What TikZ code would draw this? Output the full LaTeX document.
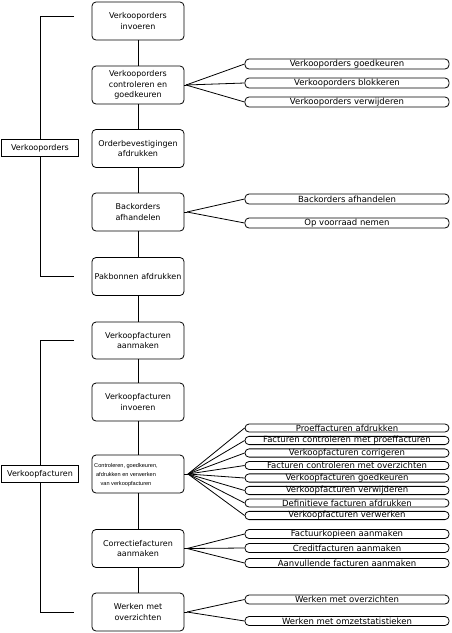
\documentclass[tikz,border=0pt]{standalone}
\usepackage{fontspec}
\setmainfont{DejaVu Sans}
\newfontfamily\tinyfont{Liberation Sans}
\begin{document}
\begin{tikzpicture}[x=1pt,y=-1pt,line width=0.8pt,
  mainbox/.style={draw, rounded corners=4pt, minimum width=92pt, minimum height=38pt, align=center, inner sep=0pt, font=\fontsize{8}{10.5}\selectfont},
  subbox/.style={draw, rounded corners=4pt, minimum width=204pt, minimum height=10pt, inner sep=0pt, font=\fontsize{8.5}{9}\selectfont},
  subsmall/.style={subbox, minimum height=8pt},
  grpbox/.style={draw, fill=white, minimum width=77pt, minimum height=17pt, inner sep=0pt, font=\fontsize{8}{10}\selectfont}]
\useasboundingbox (0,0) rectangle (451,633);
% main column
\node[mainbox] (m1) at (138,21) {Verkooporders\\invoeren};
\node[mainbox] (m2) at (138,85) {Verkooporders\\controleren en\\goedkeuren};
\node[mainbox] (m3) at (138,148.5) {Orderbevestigingen\\afdrukken};
\node[mainbox] (m4) at (138,212) {Backorders\\afhandelen};
\node[mainbox] (m5) at (138,276.5) {Pakbonnen afdrukken};
\node[mainbox, minimum height=37pt] (m6) at (138,340.5) {Verkoopfacturen\\aanmaken};
\node[mainbox] (m7) at (138,402) {Verkoopfacturen\\invoeren};
\node[mainbox] (m8) at (138,474) {};
\node[align=center, inner sep=0pt, font=\tinyfont\fontsize{5.6}{8.6}\selectfont] (m8t) at (126,475) {Controleren, goedkeuren,\\afdrukken en verwerken\\van verkoopfacturen};
\node[mainbox] (m9) at (138,548.5) {Correctiefacturen\\aanmaken};
\node[mainbox] (m10) at (138,612) {Werken met\\overzichten};
\foreach \a/\b in {m1/m2,m2/m3,m3/m4,m4/m5,m5/m6,m6/m7,m7/m8,m8/m9,m9/m10}
  \draw (\a.south) -- (\b.north);
% group labels and brackets
\coordinate (t1) at (74,16);
\coordinate (b1) at (74,276);
\coordinate (t2) at (74,340);
\coordinate (b2) at (74,612);
\node[grpbox] (g1) at (40,148) {Verkooporders};
\node[grpbox] (g2) at (40,474) {Verkoopfacturen};
\draw (t1) -| (g1.north);
\draw (g1.south) |- (b1);
\draw (t2) -| (g2.north);
\draw (g2.south) |- (b2);
% sub tasks of m2
\node[subbox] (s21) at (347,64) {Verkooporders goedkeuren};
\node[subbox] (s22) at (347,83) {Verkooporders blokkeren};
\node[subbox] (s23) at (347,102) {Verkooporders verwijderen};
\coordinate (j2) at (186,85);
\draw (m2.east) -- (j2);
\foreach \t in {s21,s22,s23} \draw (j2) -- (\t.west);
% sub tasks of m4
\node[subbox] (s41) at (347,199) {Backorders afhandelen};
\node[subbox] (s42) at (347,223) {Op voorraad nemen};
\coordinate (j4) at (187,212);
\draw (m4.east) -- (j4);
\foreach \t in {s41,s42} \draw (j4) -- (\t.west);
% sub tasks of m8
\node[subsmall] (s81) at (347,428) {Proeffacturen afdrukken};
\node[subsmall] (s82) at (347,440.5) {Facturen controleren met proeffacturen};
\node[subsmall] (s83) at (347,453) {Verkoopfacturen corrigeren};
\node[subsmall] (s84) at (347,465.5) {Facturen controleren met overzichten};
\node[subsmall] (s85) at (347,478) {Verkoopfacturen goedkeuren};
\node[subsmall] (s86) at (347,490.5) {Verkoopfacturen verwijderen};
\node[subsmall] (s87) at (347,503) {Definitieve facturen afdrukken};
\node[subsmall] (s88) at (347,515.5) {Verkoopfacturen verwerken};
\coordinate (j8) at (188,474);
\draw (m8.east) -- (j8);
\foreach \t in {s81,s82,s83,s84,s85,s86,s87,s88} \draw (j8) -- (\t.west);
% sub tasks of m9
\node[subbox, minimum height=9pt] (s91) at (347,534) {Factuurkopieen aanmaken};
\node[subbox, minimum height=9pt] (s92) at (347,548) {Creditfacturen aanmaken};
\node[subbox, minimum height=9pt] (s93) at (347,563) {Aanvullende facturen aanmaken};
\coordinate (j9) at (187,548.5);
\draw (m9.east) -- (j9);
\foreach \t in {s91,s92,s93} \draw (j9) -- (\t.west);
% sub tasks of m10
\node[subbox, minimum height=9pt] (s101) at (347,599.5) {Werken met overzichten};
\node[subbox, minimum height=9pt] (s102) at (347,621) {Werken met omzetstatistieken};
\coordinate (j10) at (187,612);
\draw (m10.east) -- (j10);
\foreach \t in {s101,s102} \draw (j10) -- (\t.west);
\end{tikzpicture}
\end{document}
